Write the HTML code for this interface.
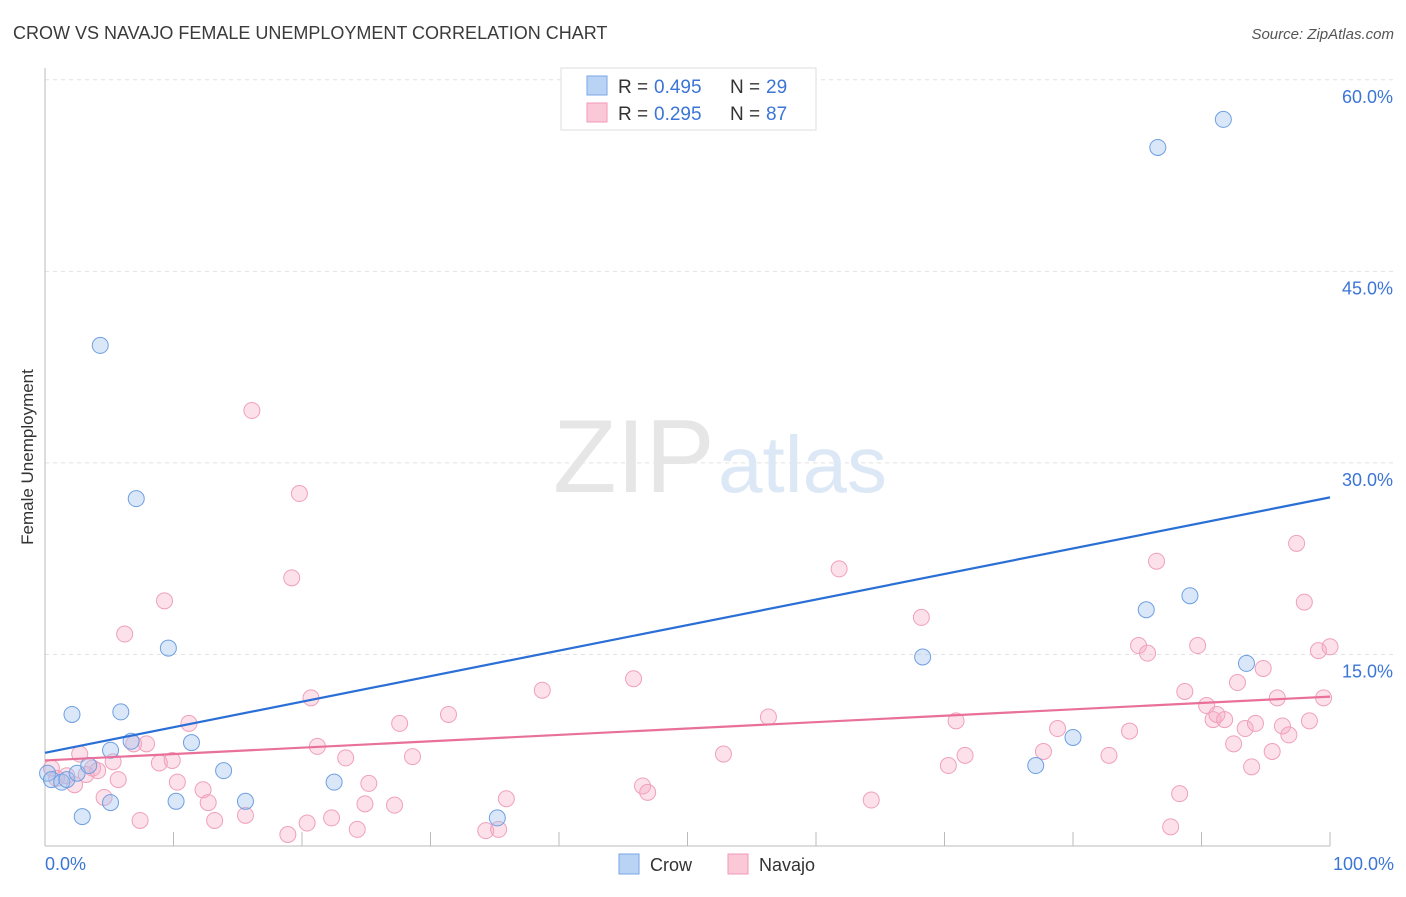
<!DOCTYPE html>
<html><head><meta charset="utf-8"><style>
body{margin:0;background:#fff;font-family:"Liberation Sans",sans-serif;}
svg text{font-family:"Liberation Sans",sans-serif;}
</style></head><body>
<svg id="chart" width="1406" height="892" xmlns="http://www.w3.org/2000/svg">
<text x="13" y="39" font-size="18" fill="#3a3a3a" font-weight="normal">CROW VS NAVAJO FEMALE UNEMPLOYMENT CORRELATION CHART</text>
<text x="1394" y="39" font-size="15" fill="#555" text-anchor="end" font-style="italic">Source: ZipAtlas.com</text>
<text transform="translate(33,457) rotate(-90)" font-size="17" fill="#333" text-anchor="middle">Female Unemployment</text>
<g id="grid"></g>
<text x="553" y="492" font-size="104" fill="#e6e6e6" font-family="Liberation Serif">ZIP</text>
<text x="718" y="492" font-size="80" fill="#dde8f6">atlas</text>
<g id="pts"></g>
<g id="lines"></g>
<g>
<rect x="561" y="68" width="255" height="62" fill="#fff" stroke="#ddd"/>
<rect x="587" y="76" width="20" height="19" fill="#b9d3f5" stroke="#7aa6e6"/>
<rect x="587" y="103" width="20" height="19" fill="#fbc8d7" stroke="#f09ab5"/>
<text x="618" y="93" font-size="19" fill="#333">R =</text>
<text x="654" y="93" font-size="19" fill="#3b75d6">0.495</text>
<text x="730" y="93" font-size="19" fill="#333">N =</text>
<text x="766" y="93" font-size="19" fill="#3b75d6">29</text>
<text x="618" y="120" font-size="19" fill="#333">R =</text>
<text x="654" y="120" font-size="19" fill="#3b75d6">0.295</text>
<text x="730" y="120" font-size="19" fill="#333">N =</text>
<text x="766" y="120" font-size="19" fill="#3b75d6">87</text>
</g>
<g>
<rect x="619" y="854" width="20" height="20" fill="#b9d3f5" stroke="#7aa6e6"/>
<text x="650" y="871" font-size="18" fill="#333">Crow</text>
<rect x="728" y="854" width="20" height="20" fill="#fbc8d7" stroke="#f09ab5"/>
<text x="759" y="871" font-size="18" fill="#333">Navajo</text>
</g>
</svg>
<script>
const yTicks=[15,30,45,60];
const yTickLabels=["15.0%","30.0%","45.0%","60.0%"];
const xTickLabels=["0.0%","100.0%"];
const crowX=[0.2,0.5,1.3,1.7,2.5,2.1,2.9,3.4,4.3,5.1,5.1,5.9,6.7,7.1,9.6,10.2,11.4,13.9,15.6,22.5,35.2,68.3,80.0,77.1,85.7,86.6,89.1,91.7,93.5];
const crowY=[5.7,5.2,5.0,5.2,5.7,10.3,2.3,6.3,39.2,7.5,3.4,10.5,8.2,27.2,15.5,3.5,8.1,5.9,3.5,5.0,2.2,14.8,8.5,6.3,18.5,54.7,19.6,56.9,14.3];
const navX=[0.5,0.9,1.7,2.3,2.7,3.2,3.7,4.1,4.6,5.3,5.7,6.2,6.9,7.4,7.9,8.9,9.3,9.9,10.3,11.2,12.3,12.7,13.2,15.6,16.1,18.9,19.2,19.8,20.4,20.7,22.3,21.2,23.4,24.3,24.9,25.2,27.2,27.6,28.6,31.4,34.3,35.3,35.9,38.7,45.8,46.5,46.9,52.8,56.3,61.8,64.3,68.2,70.3,70.9,71.6,78.8,77.7,82.8,84.4,85.1,85.8,86.5,88.3,87.6,88.7,89.7,90.4,90.9,91.2,91.8,92.5,92.8,93.4,93.9,94.2,94.8,95.5,95.9,96.3,96.8,97.4,98.0,98.4,99.1,99.5,100];
const navY=[6.1,5.3,5.5,4.8,7.2,5.6,6.1,5.9,3.8,6.6,5.2,16.6,8.0,2.0,8.0,6.5,19.2,6.7,5.0,9.6,4.4,3.4,2.0,2.4,34.1,0.9,21.0,27.6,1.8,11.6,2.2,7.8,6.9,1.3,3.3,4.9,3.2,9.6,7.0,10.3,1.2,1.3,3.7,12.2,13.1,4.7,4.2,7.2,10.1,21.7,3.6,17.9,6.3,9.8,7.1,9.2,7.4,7.1,9.0,15.7,15.1,22.3,4.1,1.5,12.1,15.7,11.0,9.9,10.3,9.9,8.0,12.8,9.2,6.2,9.6,13.9,7.4,11.6,9.4,8.7,23.7,19.1,9.8,15.3,11.6,15.6];
const crowLine=[7.3,27.3];
const navLine=[6.7,11.7];
const NS="http://www.w3.org/2000/svg";
const sx=v=>45+v*12.85, sy=v=>846-v*12.77;
function mk(t,a,p){const e=document.createElementNS(NS,t);for(const k in a)e.setAttribute(k,a[k]);p.appendChild(e);return e;}
const g=document.getElementById('grid');
yTicks.forEach((t,i)=>{
 const l=mk('line',{x1:45,x2:1394,y1:sy(t),y2:sy(t),stroke:'#e2e2e2','stroke-dasharray':'4,4'},g);
 
 
 const tx=mk('text',{x:1393,y:sy(t)+23,'font-size':18,fill:'#3b75d6','text-anchor':'end'},g);
 tx.textContent=yTickLabels[i];
 
 
});
const ax=mk('line',{x1:45,x2:45,y1:68,y2:846,stroke:'#bbb'},g);


const bx=mk('line',{x1:45,x2:1330,y1:846,y2:846,stroke:'#bbb'},g);


for(let i=1;i<=10;i++){const t=mk('line',{x1:sx(i*10),x2:sx(i*10),y1:832,y2:846,stroke:'#bbb'},g);
 
 }
[[0,'start',45],[100,'end',1394]].forEach((d,i)=>{const t=mk('text',{x:d[2],y:870,'font-size':18,fill:'#3b75d6','text-anchor':d[1]},g);t.textContent=xTickLabels[i];
 
 });
const p=document.getElementById('pts');
navX.forEach((x,i)=>{const c=mk('circle',{cx:sx(x),cy:sy(navY[i]),r:8,fill:'rgba(247,170,195,0.35)',stroke:'#f0a0bb','stroke-width':1},p);
 
 });
crowX.forEach((x,i)=>{const c=mk('circle',{cx:sx(x),cy:sy(crowY[i]),r:8,fill:'rgba(160,195,240,0.4)',stroke:'#6f9fe0','stroke-width':1},p);
 
 });
const L=document.getElementById('lines');
const l1=mk('line',{x1:sx(0),y1:sy(crowLine[0]),x2:sx(100),y2:sy(crowLine[1]),stroke:'#2a6fd6','stroke-width':2.2},L);


const l2=mk('line',{x1:sx(0),y1:sy(navLine[0]),x2:sx(100),y2:sy(navLine[1]),stroke:'#e8709a','stroke-width':2.2},L);


</script>
</body></html>
